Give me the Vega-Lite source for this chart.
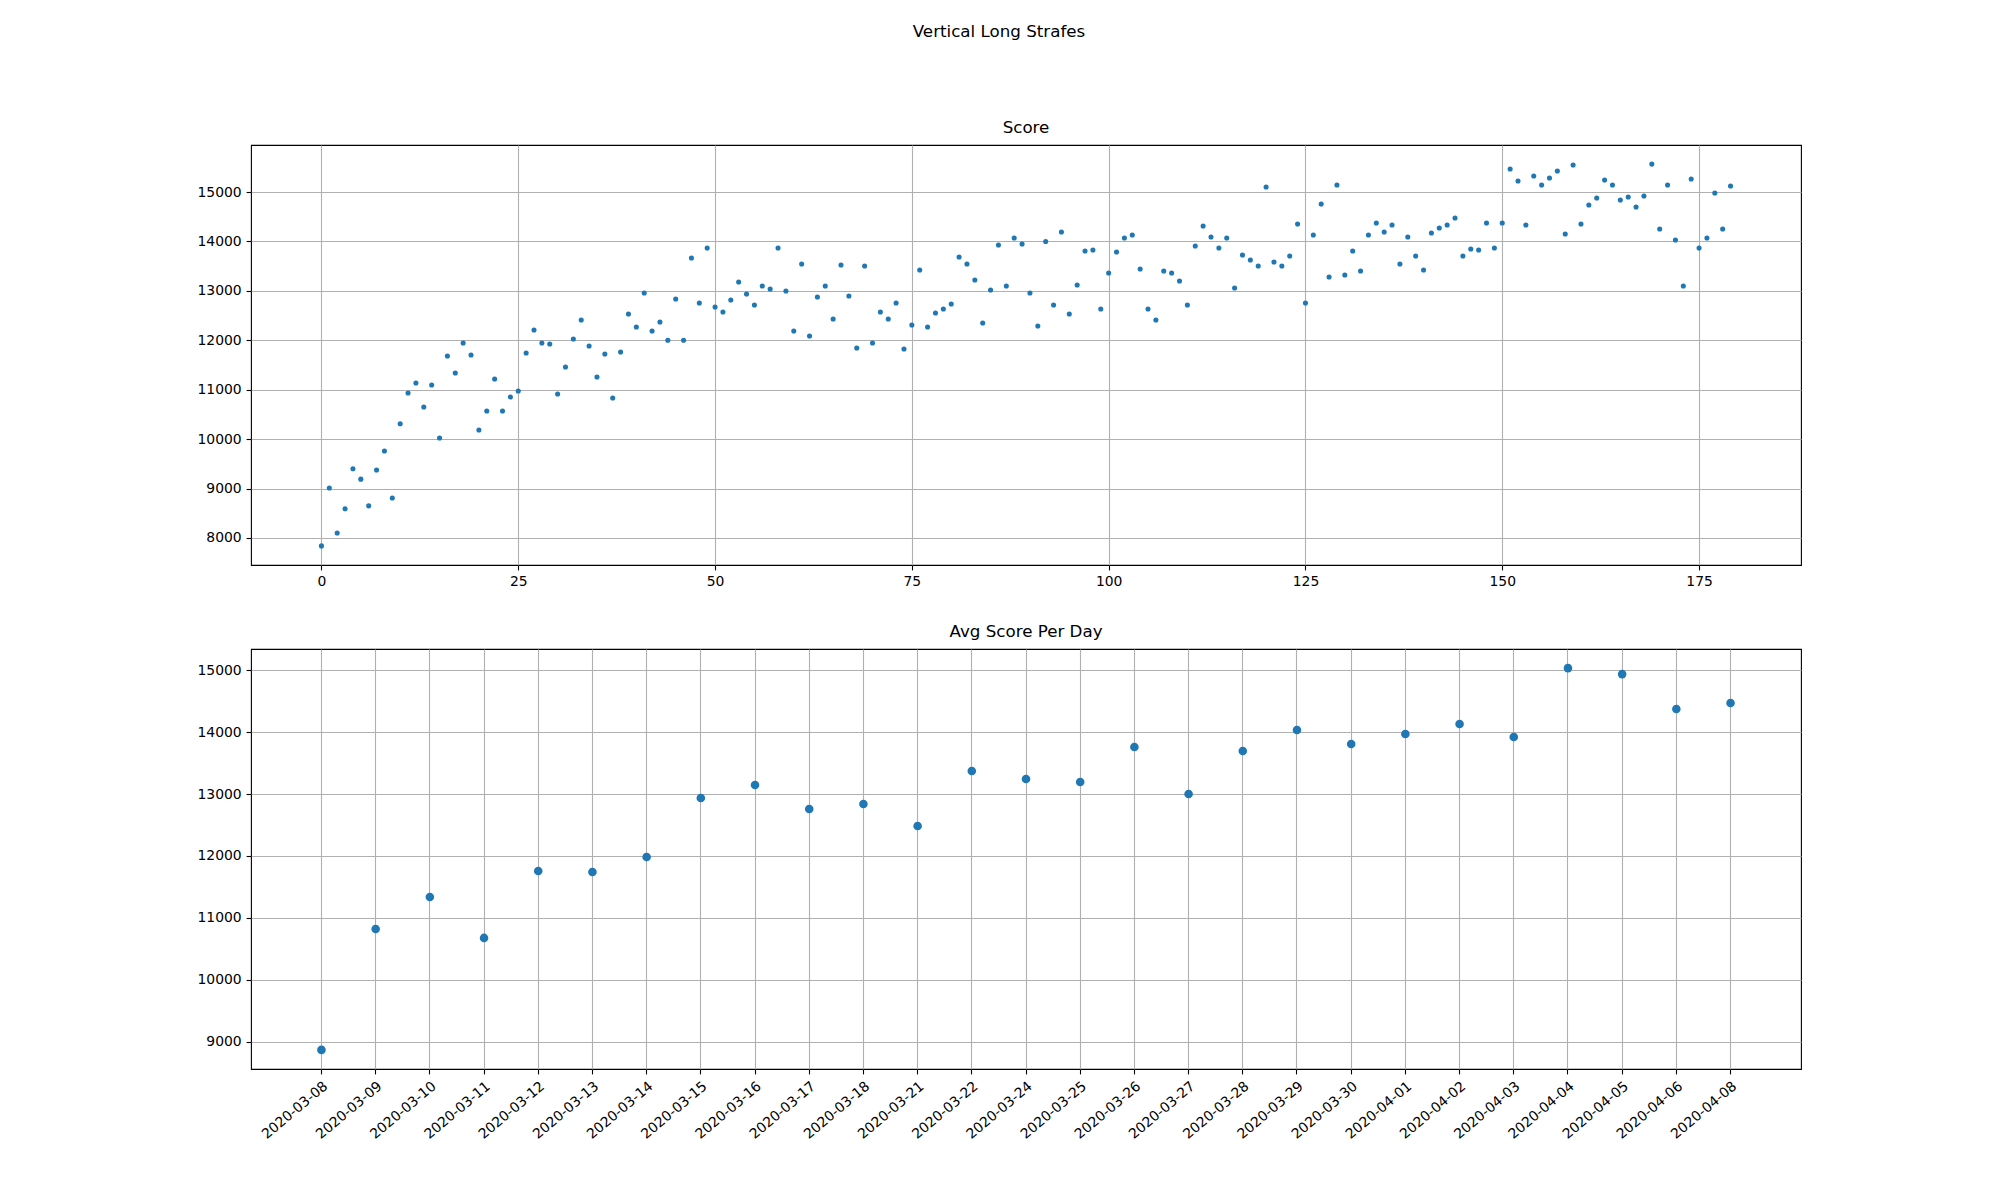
{
  "$schema": "https://vega.github.io/schema/vega-lite/v6.json",
  "title": {"text": "Vertical Long Strafes", "anchor": "middle", "baseline": "alphabetic", "offset": 66.5, "fontSize": 16.7, "fontWeight": "normal", "font": "DejaVu Sans", "color": "black"},
  "padding": {"left": 196, "top": 23, "right": 0, "bottom": 0},
  "background": "white",
  "datasets": {
    "scores": [
      {"game": 0, "score": 7840}, {"game": 1, "score": 9010}, {"game": 2, "score": 8100}, {"game": 3, "score": 8590},
      {"game": 4, "score": 9400}, {"game": 5, "score": 9190}, {"game": 6, "score": 8650}, {"game": 7, "score": 9375},
      {"game": 8, "score": 9760}, {"game": 9, "score": 8810}, {"game": 10, "score": 10310}, {"game": 11, "score": 10934},
      {"game": 12, "score": 11136}, {"game": 13, "score": 10651}, {"game": 14, "score": 11096}, {"game": 15, "score": 10024},
      {"game": 16, "score": 11682}, {"game": 17, "score": 11339}, {"game": 18, "score": 11945}, {"game": 19, "score": 11703},
      {"game": 20, "score": 10185}, {"game": 21, "score": 10570}, {"game": 22, "score": 11217}, {"game": 23, "score": 10570},
      {"game": 24, "score": 10853}, {"game": 25, "score": 10974}, {"game": 26, "score": 11743}, {"game": 27, "score": 12208},
      {"game": 28, "score": 11945}, {"game": 29, "score": 11925}, {"game": 30, "score": 10914}, {"game": 31, "score": 11460},
      {"game": 32, "score": 12026}, {"game": 33, "score": 12411}, {"game": 34, "score": 11885}, {"game": 35, "score": 11258},
      {"game": 36, "score": 11723}, {"game": 37, "score": 10833}, {"game": 38, "score": 11763}, {"game": 39, "score": 12532},
      {"game": 40, "score": 12269}, {"game": 41, "score": 12957}, {"game": 42, "score": 12188}, {"game": 43, "score": 12370},
      {"game": 44, "score": 12000}, {"game": 45, "score": 12835}, {"game": 46, "score": 12000}, {"game": 47, "score": 13665},
      {"game": 48, "score": 12755}, {"game": 49, "score": 13867}, {"game": 50, "score": 12674}, {"game": 51, "score": 12573},
      {"game": 52, "score": 12815}, {"game": 53, "score": 13179}, {"game": 54, "score": 12937}, {"game": 55, "score": 12714},
      {"game": 56, "score": 13098}, {"game": 57, "score": 13038}, {"game": 58, "score": 13867}, {"game": 59, "score": 12998},
      {"game": 60, "score": 12188}, {"game": 61, "score": 13544}, {"game": 62, "score": 12087}, {"game": 63, "score": 12876},
      {"game": 64, "score": 13098}, {"game": 65, "score": 12431}, {"game": 66, "score": 13523}, {"game": 67, "score": 12896},
      {"game": 68, "score": 11844}, {"game": 69, "score": 13503}, {"game": 70, "score": 11945}, {"game": 71, "score": 12573},
      {"game": 72, "score": 12431}, {"game": 73, "score": 12755}, {"game": 74, "score": 11824}, {"game": 75, "score": 12310},
      {"game": 76, "score": 13422}, {"game": 77, "score": 12269}, {"game": 78, "score": 12552}, {"game": 79, "score": 12633},
      {"game": 80, "score": 12734}, {"game": 81, "score": 13685}, {"game": 82, "score": 13544}, {"game": 83, "score": 13220},
      {"game": 84, "score": 12350}, {"game": 85, "score": 13018}, {"game": 86, "score": 13928}, {"game": 87, "score": 13098},
      {"game": 88, "score": 14069}, {"game": 89, "score": 13948}, {"game": 90, "score": 12957}, {"game": 91, "score": 12289},
      {"game": 92, "score": 14000}, {"game": 93, "score": 12714}, {"game": 94, "score": 14191}, {"game": 95, "score": 12532},
      {"game": 96, "score": 13119}, {"game": 97, "score": 13806}, {"game": 98, "score": 13827}, {"game": 99, "score": 12633},
      {"game": 100, "score": 13361}, {"game": 101, "score": 13786}, {"game": 102, "score": 14069}, {"game": 103, "score": 14130},
      {"game": 104, "score": 13442}, {"game": 105, "score": 12633}, {"game": 106, "score": 12411}, {"game": 107, "score": 13402},
      {"game": 108, "score": 13361}, {"game": 109, "score": 13200}, {"game": 110, "score": 12714}, {"game": 111, "score": 13908},
      {"game": 112, "score": 14312}, {"game": 113, "score": 14090}, {"game": 114, "score": 13867}, {"game": 115, "score": 14069},
      {"game": 116, "score": 13058}, {"game": 117, "score": 13726}, {"game": 118, "score": 13624}, {"game": 119, "score": 13503},
      {"game": 120, "score": 15101}, {"game": 121, "score": 13584}, {"game": 122, "score": 13503}, {"game": 123, "score": 13705},
      {"game": 124, "score": 14353}, {"game": 125, "score": 12755}, {"game": 126, "score": 14130}, {"game": 127, "score": 14757},
      {"game": 128, "score": 13281}, {"game": 129, "score": 15142}, {"game": 130, "score": 13321}, {"game": 131, "score": 13806},
      {"game": 132, "score": 13402}, {"game": 133, "score": 14130}, {"game": 134, "score": 14373}, {"game": 135, "score": 14191},
      {"game": 136, "score": 14332}, {"game": 137, "score": 13544}, {"game": 138, "score": 14090}, {"game": 139, "score": 13705},
      {"game": 140, "score": 13422}, {"game": 141, "score": 14171}, {"game": 142, "score": 14272}, {"game": 143, "score": 14332},
      {"game": 144, "score": 14474}, {"game": 145, "score": 13705}, {"game": 146, "score": 13847}, {"game": 147, "score": 13827},
      {"game": 148, "score": 14373}, {"game": 149, "score": 13867}, {"game": 150, "score": 14373}, {"game": 151, "score": 15465},
      {"game": 152, "score": 15223}, {"game": 153, "score": 14332}, {"game": 154, "score": 15324}, {"game": 155, "score": 15142},
      {"game": 156, "score": 15283}, {"game": 157, "score": 15425}, {"game": 158, "score": 14150}, {"game": 159, "score": 15546},
      {"game": 160, "score": 14353}, {"game": 161, "score": 14737}, {"game": 162, "score": 14879}, {"game": 163, "score": 15243},
      {"game": 164, "score": 15142}, {"game": 165, "score": 14838}, {"game": 166, "score": 14899}, {"game": 167, "score": 14697},
      {"game": 168, "score": 14919}, {"game": 169, "score": 15566}, {"game": 170, "score": 14252}, {"game": 171, "score": 15142},
      {"game": 172, "score": 14029}, {"game": 173, "score": 13098}, {"game": 174, "score": 15263}, {"game": 175, "score": 13867},
      {"game": 176, "score": 14069}, {"game": 177, "score": 14980}, {"game": 178, "score": 14252}, {"game": 179, "score": 15121}
    ],
    "daily": [
      {"date": "2020-03-08", "avg": 8871}, {"date": "2020-03-09", "avg": 10823}, {"date": "2020-03-10", "avg": 11339},
      {"date": "2020-03-11", "avg": 10678}, {"date": "2020-03-12", "avg": 11758}, {"date": "2020-03-13", "avg": 11742},
      {"date": "2020-03-14", "avg": 11984}, {"date": "2020-03-15", "avg": 12936}, {"date": "2020-03-16", "avg": 13145},
      {"date": "2020-03-17", "avg": 12758}, {"date": "2020-03-18", "avg": 12839}, {"date": "2020-03-21", "avg": 12484},
      {"date": "2020-03-22", "avg": 13371}, {"date": "2020-03-24", "avg": 13242}, {"date": "2020-03-25", "avg": 13194},
      {"date": "2020-03-26", "avg": 13758}, {"date": "2020-03-27", "avg": 13000}, {"date": "2020-03-28", "avg": 13694},
      {"date": "2020-03-29", "avg": 14032}, {"date": "2020-03-30", "avg": 13807}, {"date": "2020-04-01", "avg": 13968},
      {"date": "2020-04-02", "avg": 14129}, {"date": "2020-04-03", "avg": 13919}, {"date": "2020-04-04", "avg": 15032},
      {"date": "2020-04-05", "avg": 14935}, {"date": "2020-04-06", "avg": 14371}, {"date": "2020-04-08", "avg": 14468}
    ]
  },
  "spacing": 84,
  "bounds": "flush",
  "vconcat": [
    {
      "title": {"text": "Score"},
      "width": 1550,
      "height": 420,
      "data": {"name": "scores"},
      "mark": {"type": "circle", "size": 26, "color": "#1f77b4", "opacity": 1},
      "encoding": {
        "x": {
          "field": "game", "type": "quantitative", "title": null,
          "scale": {"domain": [-8.95, 187.95], "nice": false, "zero": false},
          "axis": {"values": [0, 25, 50, 75, 100, 125, 150, 175], "labelFlush": false}
        },
        "y": {
          "field": "score", "type": "quantitative", "title": null,
          "scale": {"domain": [7453, 15952], "nice": false, "zero": false},
          "axis": {"values": [8000, 9000, 10000, 11000, 12000, 13000, 14000, 15000], "format": "d"}
        }
      }
    },
    {
      "title": {"text": "Avg Score Per Day"},
      "width": 1550,
      "height": 420,
      "data": {"name": "daily"},
      "mark": {"type": "circle", "size": 74, "color": "#1f77b4", "opacity": 1},
      "encoding": {
        "x": {
          "field": "date", "type": "ordinal", "title": null, "sort": null,
          "scale": {"type": "band", "paddingInner": 0, "paddingOuter": 0.8},
          "axis": {"grid": true, "bandPosition": 0.5, "labelAngle": -40, "labelAlign": "right", "labelBaseline": "top", "labelOverlap": false, "labelBound": false}
        },
        "y": {
          "field": "avg", "type": "quantitative", "title": null,
          "scale": {"domain": [8563, 15340], "nice": false, "zero": false},
          "axis": {"values": [9000, 10000, 11000, 12000, 13000, 14000, 15000], "format": "d"}
        }
      }
    }
  ],
  "config": {
    "font": "DejaVu Sans",
    "view": {"stroke": "black", "strokeWidth": 1.1},
    "axis": {
      "domain": false, "grid": true, "gridColor": "#b0b0b0", "gridWidth": 1.1,
      "tickColor": "black", "tickSize": 4.9, "tickWidth": 1.1,
      "labelFont": "DejaVu Sans", "labelFontSize": 13.9, "labelColor": "black", "labelPadding": 4.9,
      "zindex": 1
    },
    "title": {"font": "DejaVu Sans", "fontSize": 16.7, "fontWeight": "normal", "color": "black", "baseline": "alphabetic", "offset": 8, "anchor": "middle"}
  }
}
